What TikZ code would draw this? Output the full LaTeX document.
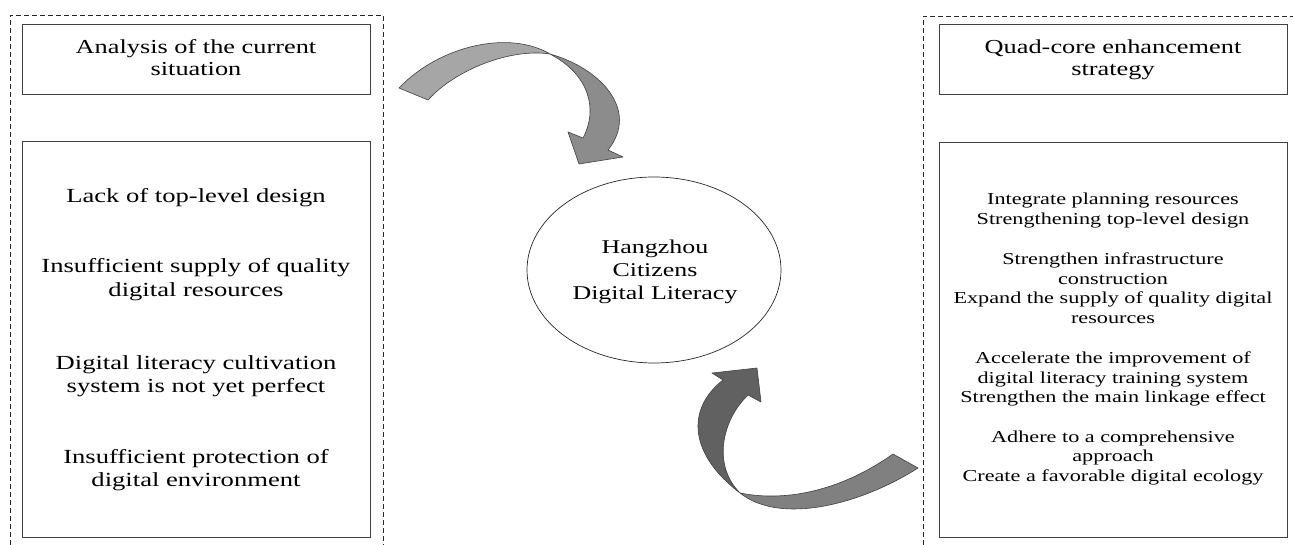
\documentclass[tikz,border=0pt]{standalone}
\usepackage{fontspec}
\usetikzlibrary{shapes.geometric}
\setmainfont{Liberation Serif}[FakeStretch=1.33]
\definecolor{arrA}{HTML}{A6A6A6}
\definecolor{arrB}{HTML}{8C8C8C}
\definecolor{arrC}{HTML}{808080}
\definecolor{arrD}{HTML}{616161}
\begin{document}
\begin{tikzpicture}[x=1pt,y=-1pt,
  frame/.style={draw=black!85, line width=0.7pt, dash pattern=on 5pt off 3pt},
  box/.style={draw=black!75, line width=0.8pt, inner sep=0pt, outer sep=0pt, minimum width=348pt},
  hd/.style={anchor=base, inner sep=0pt, font=\fontsize{19.8}{22}\selectfont},
  lt/.style={anchor=base, inner sep=0pt, font=\fontsize{20}{24}\selectfont},
  et/.style={anchor=base, inner sep=0pt, font=\fontsize{19.5}{23}\selectfont},
  rt/.style={anchor=base, inner sep=0pt, font=\fontsize{16.7}{19.7}\selectfont},
  arrline/.style={draw=black!75, line width=0.6pt, line join=round}]
\useasboundingbox (0,0) rectangle (1293,545);
\fill[white] (0,0) rectangle (1293,545);

% dashed frames
\coordinate (lf1) at (10,545); \coordinate (lf2) at (10,15);
\coordinate (lf3) at (383,15); \coordinate (lf4) at (383,545);
\draw[frame] (lf1) -- (lf2) -- (lf3) -- (lf4);
\coordinate (rf1) at (923,545); \coordinate (rf2) at (923,16);
\coordinate (rf3) at (1293,16);
\draw[frame] (rf1) -- (rf2) -- (rf3);

% boxes
\node[box, minimum height=70pt] (lhead) at (196,59) {};
\node[box, minimum height=396pt] (lbody) at (196,339) {};
\node[box, minimum height=70pt] (rhead) at (1113.5,59) {};
\node[box, minimum height=395pt] (rbody) at (1113,339.5) {};
\node[draw=black!85, line width=0.7pt, ellipse, minimum width=254pt, minimum height=186pt, inner sep=0pt] (core) at (654,270) {};

% headings
\node[hd] (h1) at (196,54) {Analysis of the current};
\node[hd] (h2) at (196,76) {situation};
\node[hd] (h3) at (1113,54) {Quad-core enhancement};
\node[hd] (h4) at (1113,76) {strategy};

% left body
\node[lt] (l1) at (196,203) {Lack of top-level design};
\node[lt] (l2) at (196,273) {Insufficient supply of quality};
\node[lt] (l3) at (196,297) {digital resources};
\node[lt] (l4) at (196,369) {Digital literacy cultivation};
\node[lt] (l5) at (196,392) {system is not yet perfect};
\node[lt] (l6) at (196,463) {Insufficient protection of};
\node[lt] (l7) at (196,486) {digital environment};

% ellipse text
\node[et] (e1) at (655,254) {Hangzhou};
\node[et] (e2) at (655,277) {Citizens};
\node[et] (e3) at (655,300) {Digital Literacy};

% right body
\node[rt] (r1) at (1113,205) {Integrate planning resources};
\node[rt] (r2) at (1113,224.5) {Strengthening top-level design};
\node[rt] (r3) at (1113,265) {Strengthen infrastructure};
\node[rt] (r4) at (1113,284.5) {construction};
\node[rt] (r5) at (1113,304) {Expand the supply of quality digital};
\node[rt] (r6) at (1113,323.5) {resources};
\node[rt] (r7) at (1113,363) {Accelerate the improvement of};
\node[rt] (r8) at (1113,383) {digital literacy training system};
\node[rt] (r9) at (1113,402.5) {Strengthen the main linkage effect};
\node[rt] (r10) at (1113,442) {Adhere to a comprehensive};
\node[rt] (r11) at (1113,461.5) {approach};
\node[rt] (r12) at (1113,481) {Create a favorable digital ecology};

% upper curved arrow (analysis -> core)
\coordinate (ua1) at (399,88);
\coordinate (ua2) at (428,100);
\coordinate (utw) at (550,54);
\coordinate (un1) at (608,150);
\coordinate (uc1) at (623,157);
\coordinate (utip) at (579,164);
\coordinate (uc2) at (568,132);
\coordinate (un2) at (583,138);
\filldraw[arrline, fill=arrA] (ua1) .. controls (440,45) and (510,30) .. (utw)
   .. controls (510,48) and (455,70) .. (ua2) -- cycle;
\filldraw[arrline, fill=arrB] (utw) .. controls (600,68) and (640,110) .. (un1)
   -- (uc1) -- (utip) -- (uc2) -- (un2)
   .. controls (598,110) and (590,75) .. (utw) -- cycle;

% lower curved arrow (strategy -> core)
\coordinate (la1) at (893,454);
\coordinate (la2) at (918,468);
\coordinate (ltw) at (740,493);
\coordinate (ln1) at (723,380);
\coordinate (lc1) at (712,373);
\coordinate (ltip) at (757,368);
\coordinate (lc2) at (761,402);
\coordinate (ln2) at (748,395);
\filldraw[arrline, fill=arrC] (la1) .. controls (845,488) and (790,503) .. (ltw)
   .. controls (780,525) and (860,505) .. (la2) -- cycle;
\filldraw[arrline, fill=arrD] (ltw) .. controls (690,455) and (685,410) .. (ln1)
   -- (lc1) -- (ltip) -- (lc2) -- (ln2)
   .. controls (722,420) and (712,465) .. (ltw) -- cycle;
\end{tikzpicture}
\end{document}
